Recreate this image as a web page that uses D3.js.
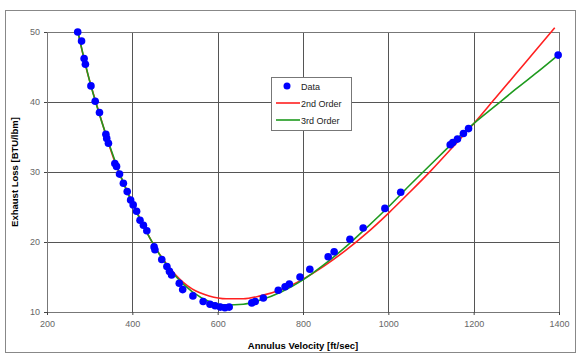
<!DOCTYPE html>
<html>
<head>
<meta charset="utf-8">
<script src="https://cdn.jsdelivr.net/npm/d3@7"></script>
<style>
  body { margin: 0; background: #fff; }
  svg { display: block; font-family: "Liberation Sans", Arial, sans-serif; }
</style>
</head>
<body>
<svg id="chart" width="578" height="355"></svg>
<script>
  // measured points, annulus velocity (ft/sec) vs exhaust loss (BTU/lbm)
  var dataX = [272, 281, 287, 290, 303, 313, 323, 338, 340, 344, 359, 363, 370, 379, 388, 396, 402, 410, 418, 426, 434,
               451, 453, 469, 481, 487, 492, 510, 518, 542, 566, 582, 594, 606, 617, 627, 680, 688, 707, 742, 758, 768,
               793, 816, 859, 873, 910, 941, 992, 1029, 1145, 1151, 1162, 1176, 1188, 1398];
  var dataY = [50.0, 48.7, 46.2, 45.4, 42.3, 40.1, 38.5, 35.4, 34.8, 34.1, 31.2, 30.8, 29.7, 28.4, 27.2, 26.0, 25.3, 24.4, 23.1, 22.4, 21.6,
               19.3, 18.9, 17.5, 16.5, 15.8, 15.3, 14.1, 13.2, 12.3, 11.5, 11.1, 10.9, 10.7, 10.6, 10.7, 11.3, 11.5, 12.0, 13.1, 13.6, 14.0,
               15.0, 16.1, 17.9, 18.6, 20.4, 22.0, 24.8, 27.1, 33.9, 34.2, 34.7, 35.5, 36.2, 46.7];

  // trend lines
  var order2X = [272, 290, 320, 360, 400, 450, 500, 540, 580, 620, 660, 700, 750, 800, 850, 900, 950, 1000, 1050, 1100, 1150, 1200, 1250, 1300, 1350, 1390];
  var order2Y = [50.2, 45.3, 38.9, 31.3, 25.7, 19.6, 15.4, 13.3, 12.3, 11.9, 11.9, 12.3, 13.2, 14.7, 16.6, 18.8, 21.3, 24.1, 27.1, 30.2, 33.5, 36.9, 40.5, 44.1, 47.7, 50.6];
  var order3X = [272, 300, 340, 380, 420, 460, 500, 540, 580, 620, 660, 700, 750, 800, 850, 900, 950, 1000, 1050, 1100, 1150, 1200, 1250, 1300, 1350, 1398];
  var order3Y = [50.1, 43.0, 35.0, 28.3, 23.0, 18.6, 15.2, 12.9, 11.5, 11.0, 11.1, 11.7, 12.9, 14.6, 16.8, 19.3, 22.1, 25.0, 28.1, 31.1, 34.1, 36.9, 39.4, 41.9, 44.3, 46.7];

  var xTicks = [200, 400, 600, 800, 1000, 1200, 1400];
  var yTicks = [10, 20, 30, 40, 50];

  var svg = d3.select("#chart");
  var margin = { left: 47, top: 32, right: 559, bottom: 312 };

  var x = d3.scaleLinear().domain([200, 1400]).range([margin.left, margin.right]);
  var y = d3.scaleLinear().domain([10, 50]).range([margin.bottom, margin.top]);

  // outer frame
  svg.append("rect")
    .attr("x", 5.5).attr("y", 10.5)
    .attr("width", 570).attr("height", 342)
    .attr("fill", "#fff")
    .attr("stroke", "#888");

  // grid
  svg.append("g").selectAll("line").data(xTicks).enter().append("line")
    .attr("x1", function(d) { return Math.round(x(d)) + 0.5; })
    .attr("x2", function(d) { return Math.round(x(d)) + 0.5; })
    .attr("y1", margin.top).attr("y2", margin.bottom)
    .attr("stroke", "#555");
  svg.append("g").selectAll("line").data(yTicks).enter().append("line")
    .attr("y1", function(d) { return Math.round(y(d)) + 0.5; })
    .attr("y2", function(d) { return Math.round(y(d)) + 0.5; })
    .attr("x1", margin.left).attr("x2", margin.right)
    .attr("stroke", "#555");

  svg.append("rect")
    .attr("x", margin.left + 0.5).attr("y", margin.top + 0.5)
    .attr("width", margin.right - margin.left).attr("height", margin.bottom - margin.top)
    .attr("fill", "none")
    .attr("stroke", "#777");

  // axes
  var xAxis = d3.axisBottom(x).tickValues(xTicks).tickSize(3).tickPadding(6).tickFormat(d3.format("d"));
  var yAxis = d3.axisLeft(y).tickValues(yTicks).tickSize(3).tickPadding(4);

  var gx = svg.append("g").attr("transform", "translate(0," + margin.bottom + ")").call(xAxis);
  var gy = svg.append("g").attr("transform", "translate(" + margin.left + ",0)").call(yAxis);
  [gx, gy].forEach(function(g) {
    g.select(".domain").remove();
    g.selectAll("line").attr("stroke", "#444");
    g.selectAll("text").attr("fill", "#666").style("font-size", "9px");
  });

  var line = d3.line()
    .x(function(d) { return x(d[0]); })
    .y(function(d) { return y(d[1]); })
    .curve(d3.curveMonotoneX);

  svg.append("path")
    .datum(d3.zip(order2X, order2Y))
    .attr("d", line)
    .attr("fill", "none")
    .attr("stroke", "#ff2020")
    .attr("stroke-width", 1.6);

  svg.append("path")
    .datum(d3.zip(order3X, order3Y))
    .attr("d", line)
    .attr("fill", "none")
    .attr("stroke", "#1e9a1e")
    .attr("stroke-width", 1.6);

  svg.append("g").selectAll("circle").data(d3.zip(dataX, dataY)).enter().append("circle")
    .attr("cx", function(d) { return x(d[0]); })
    .attr("cy", function(d) { return y(d[1]); })
    .attr("r", 3.8)
    .attr("fill", "#0000ff");

  // axis titles
  svg.append("text")
    .attr("x", (margin.left + margin.right) / 2)
    .attr("y", 349)
    .attr("text-anchor", "middle")
    .style("font-size", "9.5px").style("font-weight", "bold")
    .text("Annulus Velocity [ft/sec]");

  svg.append("text")
    .attr("transform", "translate(18," + (margin.top + margin.bottom) / 2 + ") rotate(-90)")
    .attr("text-anchor", "middle")
    .style("font-size", "9.5px").style("font-weight", "bold")
    .text("Exhaust Loss [BTU/lbm]");

  // legend
  var legend = svg.append("g").attr("transform", "translate(271,77)");
  legend.append("rect")
    .attr("x", 0.5).attr("y", 0.5).attr("width", 80).attr("height", 53)
    .attr("fill", "#fff").attr("stroke", "#777");
  legend.append("circle").attr("cx", 16).attr("cy", 9).attr("r", 3.5).attr("fill", "#0000ff");
  legend.append("line").attr("x1", 5).attr("x2", 29).attr("y1", 26).attr("y2", 26)
    .attr("stroke", "#ff2020").attr("stroke-width", 1.6);
  legend.append("line").attr("x1", 5).attr("x2", 29).attr("y1", 43).attr("y2", 43)
    .attr("stroke", "#1e9a1e").attr("stroke-width", 1.6);
  legend.selectAll("text.lab").data(["Data", "2nd Order", "3rd Order"]).enter().append("text")
    .attr("class", "lab")
    .attr("x", 30)
    .attr("y", function(d, i) { return 12.5 + i * 17; })
    .style("font-size", "9px")
    .attr("fill", "#222")
    .text(function(d) { return d; });
</script>
</body>
</html>
